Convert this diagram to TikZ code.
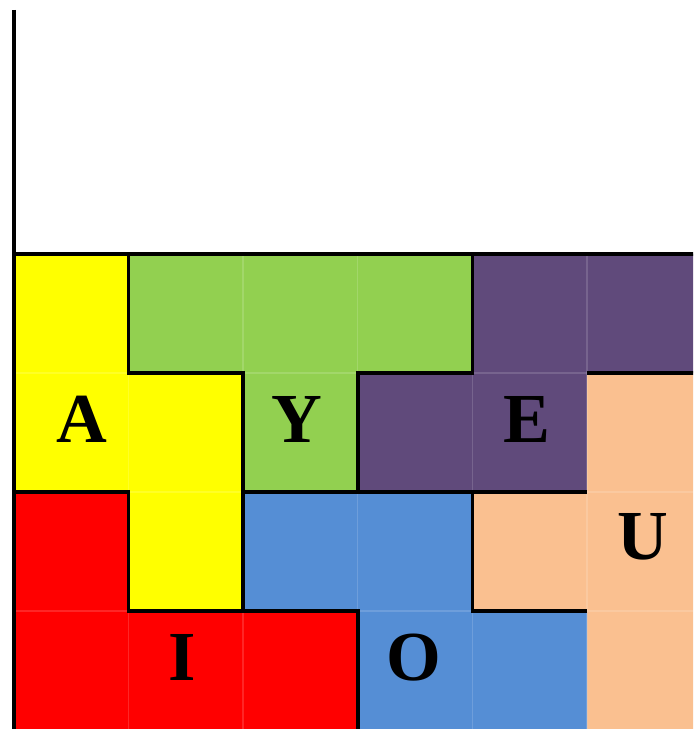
\documentclass[tikz,border=0pt]{standalone}
\usepackage{fontspec}
\setmainfont{Liberation Serif}
\definecolor{piece-yellow}{HTML}{FFFF00}
\definecolor{piece-green}{HTML}{92D050}
\definecolor{piece-purple}{HTML}{604A7B}
\definecolor{piece-peach}{HTML}{FAC090}
\definecolor{piece-blue}{HTML}{558ED5}
\definecolor{piece-red}{HTML}{FF0000}

\begin{document}
\begin{tikzpicture}[x=1.146cm, y=-1.19cm,
      piece/.style={draw=none},
      cellline/.style={draw=white, opacity=0.15, line width=0.4pt},
      border/.style={draw=black, line width=1pt, line join=miter},
      tag/.style={font=\fontsize{20}{24}\selectfont\bfseries, inner sep=0pt}]
    \useasboundingbox (-0.122,-2.134) rectangle (5.925,3.992);
    \clip (-0.122,-2.134) rectangle (5.925,3.992);

    % pieces (one cell = one unit, rows counted downwards)
    \fill[piece, piece-yellow] (0,0) -- (1,0) -- (1,1) -- (2,1) -- (2,3) -- (1,3) -- (1,2) -- (0,2) -- cycle;
    \fill[piece, piece-green]  (1,0) -- (4,0) -- (4,1) -- (3,1) -- (3,2) -- (2,2) -- (2,1) -- (1,1) -- cycle;
    \fill[piece, piece-purple] (4,0) -- (6,0) -- (6,1) -- (5,1) -- (5,2) -- (3,2) -- (3,1) -- (4,1) -- cycle;
    \fill[piece, piece-peach]  (5,1) -- (6,1) -- (6,4) -- (5,4) -- (5,3) -- (4,3) -- (4,2) -- (5,2) -- cycle;
    \fill[piece, piece-blue]   (2,2) -- (4,2) -- (4,3) -- (5,3) -- (5,4) -- (3,4) -- (3,3) -- (2,3) -- cycle;
    \fill[piece, piece-red]    (0,2) -- (1,2) -- (1,3) -- (3,3) -- (3,4) -- (0,4) -- cycle;

    % faint cell grid
    \foreach \i in {1,...,5}
      \draw[cellline] (\i,0) -- (\i,4);
    \foreach \j in {1,2,3}
      \draw[cellline] (0,\j) -- (6,\j);

    % black outlines
    \draw[border, line width=1.2pt] (0,-2.05) -- (0,4);
    \draw[border] (0,0) -- (6,0);
    \draw[border] (1,0) -- (1,1) -- (2,1) -- (2,3);
    \draw[border] (4,0) -- (4,1) -- (3,1) -- (3,2);
    \draw[border] (0,2) -- (1,2) -- (1,3) -- (3,3) -- (3,4);
    \draw[border] (2,2) -- (5,2);
    \draw[border] (6,1) -- (5,1);
    \draw[border] (4,2) -- (4,3) -- (5,3);

    % letters
    \node[tag] (tagA) at (0.59,1.39) {A};
    \node[tag] (tagY) at (2.47,1.39) {Y};
    \node[tag] (tagE) at (4.48,1.39) {E};
    \node[tag] (tagU) at (5.49,2.38) {U};
    \node[tag] (tagO) at (3.49,3.39) {O};
    \node[tag] (tagI) at (1.47,3.39) {I};
\end{tikzpicture}
\end{document}
